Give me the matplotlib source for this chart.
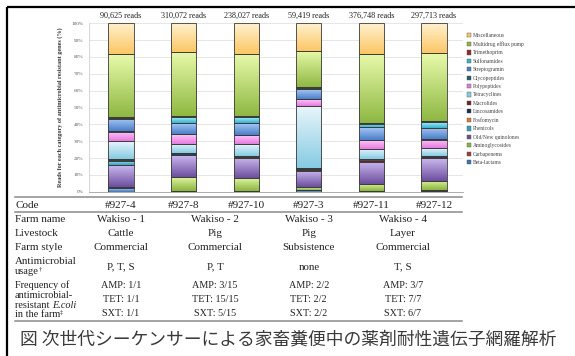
import numpy as np
import matplotlib
matplotlib.use("Agg")
import matplotlib.pyplot as plt
from matplotlib.colors import LinearSegmentedColormap
from matplotlib.patches import Patch
from matplotlib.transforms import blended_transform_factory

plt.rcParams['font.family'] = ['Liberation Serif', 'DejaVu Serif']

# samples (left to right)
codes = ["#927-4", "#927-8", "#927-10", "#927-3", "#927-11", "#927-12"]
reads = ["90,625 reads", "310,072 reads", "238,027 reads",
         "59,419 reads", "376,748 reads", "297,713 reads"]

# share of reads per category (%), stacked bottom -> top
beta_lactams    = [2.3, 0.5, 0.4, 0.8, 0.3, 0.7]
carbapenems     = [0.5, 0.1, 0.1, 0.1, 0.1, 0.1]
aminoglycosides = [0.2, 8.0, 7.5, 1.6, 4.2, 5.8]
quinolones      = [13.0, 13.0, 12.0, 10.0, 13.3, 13.5]
phenicols       = [2.5, 0.3, 0.3, 0.1, 0.2, 0.1]
fosfomycin      = [0.1, 0.1, 0.1, 0.1, 0.1, 0.1]
lincosamides    = [0.7, 0.7, 0.8, 0.8, 0.3, 0.5]
macrolides      = [0.2, 0.1, 0.2, 0.8, 1.0, 0.5]
tetracyclines   = [10.5, 5.8, 7.0, 36.5, 6.0, 4.5]
polypeptides    = [5.5, 5.5, 5.0, 4.0, 5.0, 5.0]
glycopeptides   = [0.3, 0.3, 0.3, 0.5, 0.3, 0.3]
streptogramin   = [7.5, 6.5, 7.0, 5.5, 7.5, 7.0]
sulfonamides    = [0.3, 3.5, 3.5, 1.0, 2.0, 3.5]
trimethoprim    = [0.5, 0.5, 0.7, 0.2, 0.5, 0.5]
multidrug       = [37.4, 38.1, 37.1, 21.8, 41.2, 40.1]
miscellaneous   = [18.5, 17.0, 18.0, 16.2, 18.0, 17.8]

# table below the chart
farm_names = ["Wakiso - 1", "Wakiso - 2", "Wakiso - 3", "Wakiso - 4"]
farm_cols = [[0], [1, 2], [3], [4, 5]]
livestock = ["Cattle", "Pig", "Pig", "Layer"]
farm_style = ["Commercial", "Commercial", "Subsistence", "Commercial"]
usage = ["P, T, S", "P, T", "none", "T, S"]
amp = ["AMP: 1/1", "AMP: 3/15", "AMP: 2/2", "AMP: 3/7"]
tet = ["TET: 1/1", "TET: 15/15", "TET: 2/2", "TET: 7/7"]
sxt = ["SXT: 1/1", "SXT: 5/15", "SXT: 2/2", "SXT: 6/7"]

caption = "図 次世代シーケンサーによる家畜糞便中の薬剤耐性遺伝子網羅解析"

categories = [
    ("Beta-lactams", beta_lactams, "#a9c8f0", "#3f72b8"),
    ("Carbapenems", carbapenems, "#e8a0a0", "#a23b38"),
    ("Aminoglycosides", aminoglycosides, "#ddf5a0", "#8cb43f"),
    ("Old/New quinolones", quinolones, "#cbb8ef", "#6d4f9e"),
    ("Phenicols", phenicols, "#a6e6f5", "#2fa3c4"),
    ("Fosfomycin", fosfomycin, "#fbc490", "#e0782a"),
    ("Lincosamides", lincosamides, "#5a6a96", "#1e2a4d"),
    ("Macrolides", macrolides, "#b06a68", "#6b2523"),
    ("Tetracyclines", tetracyclines, "#e8f5fb", "#86cbe3"),
    ("Polypeptides", polypeptides, "#fdc8f8", "#e67ae0"),
    ("Glycopeptides", glycopeptides, "#5aa0a8", "#1f5f6a"),
    ("Streptogramin", streptogramin, "#a8c8f3", "#4a7fcb"),
    ("Sulfonamides", sulfonamides, "#a8ecf8", "#35b3d2"),
    ("Trimethoprim", trimethoprim, "#d87a78", "#8f2c2a"),
    ("Multidrug efflux pump", multidrug, "#e8faaa", "#8fb843"),
    ("Miscellaneous", miscellaneous, "#fff1cf", "#fcc765"),
]

W, H = 575, 356
fig = plt.figure(figsize=(W / 100, H / 100), dpi=100)
fig.patch.set_facecolor("white")

# overlay in pixel units for the frame, table rules and caption
over = fig.add_axes([0, 0, 1, 1])
over.set_xlim(0, W)
over.set_ylim(H, 0)
over.axis("off")

ax = fig.add_axes([89 / W, (H - 191.7) / H, (463 - 89) / W, (191.7 - 23.3) / H])
x = np.arange(len(codes))
grad = np.linspace(0, 1, 64).reshape(-1, 1)
bottom = np.zeros(len(codes))
handles = []
for name, vals, light, dark in categories:
    vals = np.array(vals)
    bars = ax.bar(x, vals, width=0.4, bottom=bottom, facecolor="none",
                  edgecolor="#3a3a3a", linewidth=0.6, zorder=3)
    cmap = LinearSegmentedColormap.from_list(name, [dark, light])
    for b in bars:
        x0, y0, w, h = b.get_x(), b.get_y(), b.get_width(), b.get_height()
        ax.imshow(grad, cmap=cmap, extent=(x0, x0 + w, y0, y0 + h),
                  origin="lower", aspect="auto", zorder=2, interpolation="bilinear")
    bottom += vals
    handles.append(Patch(facecolor=dark, edgecolor="#555555", linewidth=0.3, label=name))

ax.set_xlim(-0.511, 5.463)
ax.set_ylim(0, 100)
ax.set_yticks(np.arange(0, 101, 10))
ax.set_yticklabels([f"{v}%" for v in range(0, 101, 10)], fontsize=3.8, color="#595959")
ax.tick_params(axis="y", length=0, pad=4)
ax.set_xticks([])
ax.yaxis.grid(True, color="#dcdcdc", linewidth=0.5)
ax.set_axisbelow(True)
for s in ["top", "right"]:
    ax.spines[s].set_visible(False)
ax.spines["left"].set_color("#d0d0d0")
ax.spines["left"].set_linewidth(0.6)
ax.spines["bottom"].set_color("#a0a0a0")
ax.spines["bottom"].set_linewidth(0.6)
ax.set_ylabel("Reads for each category of antimicrobial resistant genes (%)",
              fontsize=4.4, fontweight="bold", color="#333333", labelpad=6)

leg = fig.legend(handles=handles[::-1], loc="upper left",
                 bbox_to_anchor=(467 / W, 1 - 33 / H), bbox_transform=fig.transFigure,
                 frameon=False, fontsize=4, handlelength=0.8, handleheight=0.8,
                 handletextpad=0.3, labelspacing=0.6, borderpad=0, borderaxespad=0)
for t in leg.get_texts():
    t.set_color("#444444")

# column text: x from the bar axis, y in pixels
tr = blended_transform_factory(ax.transData, over.transData)
txt = dict(transform=tr, ha="center", va="center", color="#222222")

for i, r in enumerate(reads):
    over.text(i, 15.5, r, fontsize=5.9, **txt)
for i, c in enumerate(codes):
    over.text(i, 205, c, fontsize=8, **txt)
for cols, fn, ls, fs, us, a, t, s in zip(farm_cols, farm_names, livestock, farm_style,
                                         usage, amp, tet, sxt):
    xc = np.mean(cols)
    over.text(xc, 220, fn, fontsize=8, **txt)
    over.text(xc, 234, ls, fontsize=8, **txt)
    over.text(xc, 248, fs, fontsize=8, **txt)
    over.text(xc, 267, us, fontsize=7.8, **txt)
    over.text(xc, 285, a, fontsize=7.3, **txt)
    over.text(xc, 299, t, fontsize=7.3, **txt)
    over.text(xc, 313, s, fontsize=7.3, **txt)

lab = dict(ha="left", va="center", color="#222222")
for yy, s in [(205, "Code"), (220, "Farm name"), (234, "Livestock"), (248, "Farm style")]:
    over.text(15, yy, s, fontsize=8, **lab)
over.text(15, 261.5, "Antimicrobial", fontsize=7.8, **lab)
t1 = over.text(15, 272, "usage", fontsize=7.6, **lab)
over.annotate("†", xy=(1, 0.75), xycoords=t1, fontsize=4.5, va="center", color="#222222")
over.text(15, 285, "Frequency of", fontsize=7.4, **lab)
over.text(15, 295, "antimicrobial-", fontsize=7.4, **lab)
t2 = over.text(15, 305, "resistant ", fontsize=7.4, **lab)
over.annotate("E.coli", xy=(1, 0.5), xycoords=t2, fontsize=7.4, style="italic",
              va="center", color="#222222")
t3 = over.text(15, 314.5, "in the farm", fontsize=7.4, **lab)
over.annotate("‡", xy=(1, 0.75), xycoords=t3, fontsize=4.5, va="center", color="#222222")

# table rules
over.plot([15, 462], [197, 197], color="#8a8a8a", linewidth=1.1)
over.plot([15, 462], [211.5, 211.5], color="#8a8a8a", linewidth=1.1)
over.plot([15, 462], [321, 321], color="#8a8a8a", linewidth=1.1)

# outer frame
over.plot([6.5, W], [7, 7], color="black", linewidth=1.6, solid_capstyle="butt")
over.plot([6.5, 6.5], [7, H], color="black", linewidth=1.6, solid_capstyle="butt")

over.text(20, 339, caption, fontsize=12.8, ha="left", va="center", color="#3a3a3a",
          family=["Noto Sans CJK JP", "DejaVu Sans"])

fig.savefig("out.png", dpi=100)
